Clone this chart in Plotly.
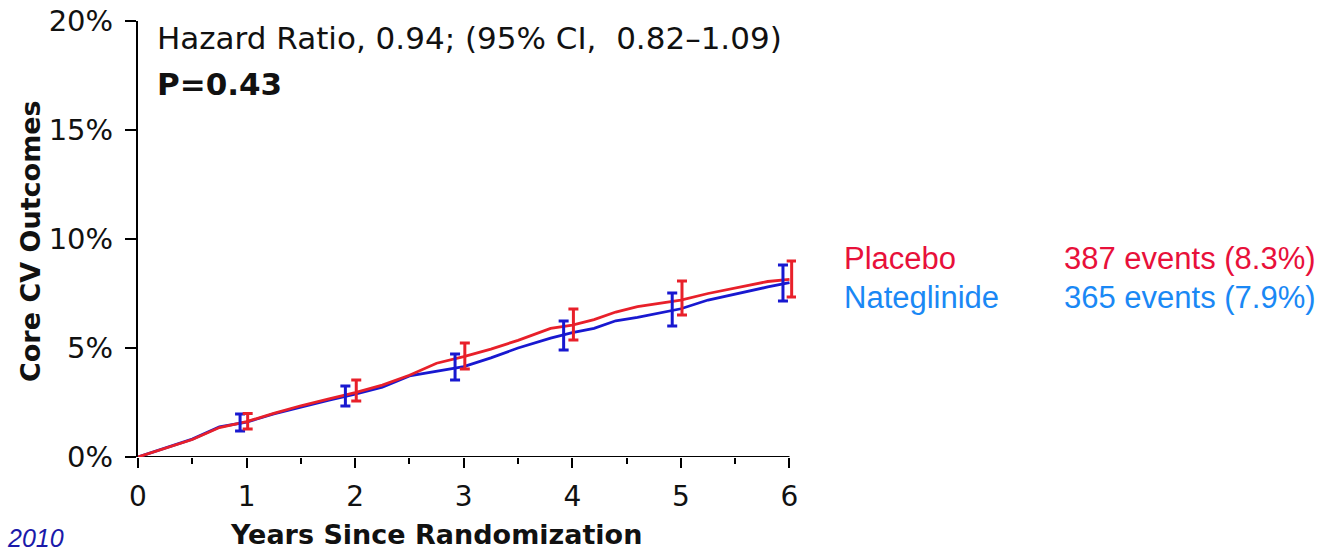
import plotly.graph_objects as go

# Cumulative incidence curves (percent)
years_curve = [0, 0.25, 0.5, 0.75, 1.0, 1.25, 1.5, 1.75, 2.0, 2.25, 2.5, 2.75, 3.0,
               3.25, 3.5, 3.8, 4.0, 4.2, 4.4, 4.6, 4.8, 5.0, 5.25, 5.5, 5.8, 6.0]
placebo_curve = [0, 0.4, 0.8, 1.35, 1.62, 2.0, 2.35, 2.65, 2.95, 3.3, 3.75, 4.3, 4.6,
                 4.95, 5.35, 5.9, 6.05, 6.3, 6.65, 6.9, 7.05, 7.2, 7.5, 7.75, 8.05, 8.15]
nateg_curve = [0, 0.42, 0.82, 1.38, 1.6, 1.98, 2.3, 2.6, 2.88, 3.2, 3.72, 3.95, 4.15,
               4.55, 5.0, 5.45, 5.7, 5.9, 6.25, 6.4, 6.6, 6.8, 7.2, 7.48, 7.8, 8.0]

# 95% CI error bars at yearly timepoints
placebo_err_x = [1.01, 2.01, 3.01, 4.01, 5.01, 6.02]
placebo_err_y = [1.65, 2.98, 4.59, 6.06, 7.25, 8.12]
placebo_err_hi = [2.0, 3.53, 5.23, 6.79, 8.07, 8.99]
placebo_err_lo = [1.28, 2.57, 4.04, 5.37, 6.51, 7.34]

nateg_err_x = [0.94, 1.91, 2.92, 3.92, 4.92, 5.94]
nateg_err_y = [1.56, 2.80, 4.13, 5.60, 6.74, 7.98]
nateg_err_hi = [1.97, 3.26, 4.72, 6.24, 7.52, 8.81]
nateg_err_lo = [1.19, 2.34, 3.53, 4.91, 6.01, 7.16]

x_ticks = [0, 1, 2, 3, 4, 5, 6]
y_ticks = [0, 5, 10, 15, 20]
y_tick_labels = ["0%", "5%", "10%", "15%", "20%"]

RED = "#E8202A"
BLUE = "#1818D0"
FONT = "DejaVu Sans"
TXT = "#111111"

fig = go.Figure()


def add_series(x, y, color):
    fig.add_trace(go.Scatter(x=x, y=y, mode="lines",
                             line=dict(color=color, width=2.8),
                             showlegend=False, hoverinfo="skip"))


def add_err(x, y, hi, lo, color):
    fig.add_trace(go.Scatter(
        x=x, y=y, mode="markers",
        marker=dict(size=1, color=color, opacity=0),
        error_y=dict(type="data", symmetric=False,
                     array=[h - v for h, v in zip(hi, y)],
                     arrayminus=[v - l for v, l in zip(y, lo)],
                     color=color, thickness=3, width=5),
        cliponaxis=False, showlegend=False, hoverinfo="skip"))


add_series(years_curve, nateg_curve, BLUE)
add_series(years_curve, placebo_curve, RED)
add_err(nateg_err_x, nateg_err_y, nateg_err_hi, nateg_err_lo, BLUE)
add_err(placebo_err_x, placebo_err_y, placebo_err_hi, placebo_err_lo, RED)

X_MAX = 6.06  # a little room past year 6 so the last CI bar is not clipped
plot_l, plot_r, plot_t, plot_b = 138, 796, 21, 457

fig.update_layout(
    width=1339, height=551,
    margin=dict(l=plot_l, r=1339 - plot_r, t=plot_t, b=551 - plot_b, autoexpand=False),
    paper_bgcolor="white", plot_bgcolor="white",
    font=dict(family=FONT, color=TXT),
    xaxis=dict(range=[0, X_MAX], tickvals=x_ticks, ticktext=[str(v) for v in x_ticks],
               showgrid=False, zeroline=False, showline=False, automargin=False,
               ticks="outside", ticklen=10,
               tickwidth=2, tickcolor="black", ticklabelstandoff=4,
               tickfont=dict(family=FONT, size=28, color=TXT),
               minor=dict(dtick=0.5, ticks="outside", ticklen=6, tickwidth=1.6,
                          tickcolor="black")),
    yaxis=dict(range=[0, 20], tickvals=y_ticks, ticktext=y_tick_labels,
               showgrid=False, zeroline=False, showline=True, automargin=False,
               linecolor="black", linewidth=2.2, ticks="outside", ticklen=11,
               tickwidth=2, tickcolor="black", ticklabelstandoff=6,
               tickfont=dict(family=FONT, size=29, color=TXT)),
)

# x-axis baseline only spans the labelled years (0 to 6)
fig.add_shape(type="line", xref="x", yref="y", x0=x_ticks[0], x1=x_ticks[-1],
              y0=0, y1=0, line=dict(color="black", width=2.2), layer="below")


def to_paper(px, py):
    return (px - plot_l) / (plot_r - plot_l), (plot_b - py) / (plot_b - plot_t)


annotations = [
    dict(x=156, y=38, text="Hazard Ratio, 0.94; (95% CI,  0.82–1.09)", size=31,
         color=TXT, family=FONT, anchor="left", angle=0),
    dict(x=156, y=84, text="<b>P=0.43</b>", size=31, color=TXT, family=FONT,
         anchor="left", angle=0),
    dict(x=843, y=258, text="Placebo", size=31, color="#E8103A",
         family="Liberation Sans", anchor="left", angle=0),
    dict(x=1063, y=258, text="387 events (8.3%)", size=31, color="#E8103A",
         family="Liberation Sans", anchor="left", angle=0),
    dict(x=843, y=297, text="Nateglinide", size=31, color="#1A88F5",
         family="Liberation Sans", anchor="left", angle=0),
    dict(x=1063, y=297, text="365 events (7.9%)", size=31, color="#1A88F5",
         family="Liberation Sans", anchor="left", angle=0),
    dict(x=6, y=538, text="<i>2010</i>", size=25, color="#1A1AAA",
         family="Liberation Sans", anchor="left", angle=0),
    dict(x=436, y=534, text="<b>Years Since Randomization</b>", size=27, color=TXT,
         family=FONT, anchor="center", angle=0),
    dict(x=30, y=241, text="<b>Core CV Outcomes</b>", size=27, color=TXT,
         family=FONT, anchor="center", angle=-90),
]
for a in annotations:
    px, py = to_paper(a["x"], a["y"])
    fig.add_annotation(
        x=px, y=py, xref="paper", yref="paper",
        xanchor=a["anchor"], yanchor="middle", showarrow=False,
        textangle=a["angle"], text=a["text"], borderpad=0,
        font=dict(size=a["size"], color=a["color"], family=a["family"]))

fig.write_html(
    "out.html",
    config={"displayModeBar": False},
    post_script="document.body.style.margin='0px';document.body.style.overflow='hidden';",
)
